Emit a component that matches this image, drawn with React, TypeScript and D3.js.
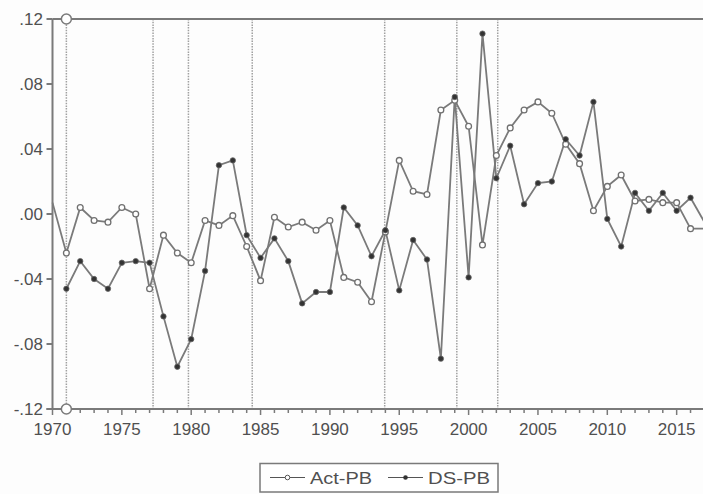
import React from "react";
import * as d3 from "d3";

const years = d3.range(1970, 2018);
const actPB = [
  0.007, -0.024, 0.004, -0.004, -0.005, 0.004, 0.0, -0.046, -0.013, -0.024,
  -0.03, -0.004, -0.007, -0.001, -0.02, -0.041, -0.002, -0.008, -0.005, -0.01,
  -0.004, -0.039, -0.042, -0.054, -0.011, 0.033, 0.014, 0.012, 0.064, 0.07,
  0.054, -0.019, 0.036, 0.053, 0.064, 0.069, 0.062, 0.043, 0.031, 0.002,
  0.017, 0.024, 0.008, 0.009, 0.007, 0.007, -0.009, -0.009,
];
const dsPB: (number | null)[] = [
  null, -0.046, -0.029, -0.04, -0.046, -0.03, -0.029, -0.03, -0.063, -0.094,
  -0.077, -0.035, 0.03, 0.033, -0.013, -0.027, -0.015, -0.029, -0.055, -0.048,
  -0.048, 0.004, -0.007, -0.026, -0.01, -0.047, -0.016, -0.028, -0.089, 0.072,
  -0.039, 0.111, 0.022, 0.042, 0.006, 0.019, 0.02, 0.046, 0.036, 0.069,
  -0.003, -0.02, 0.013, 0.002, 0.013, 0.002, 0.01, -0.005,
];
const breaks = [1971, 1977.25, 1979.8, 1984.4, 1993.95, 1999.15, 2002.1];
const yTicks = [0.12, 0.08, 0.04, 0.0, -0.04, -0.08, -0.12];
const xTicks = d3.range(1970, 2016, 5);
const seriesNames = ["Act-PB", "DS-PB"];

const W = 703;
const H = 494;
const FONT = "'Liberation Sans', Arial, sans-serif";
const GRAY = "#7a7a7a";
const TXT = "#505050";

export default function App() {
  const x = d3.scaleLinear().domain([1970, 2017]).range([52.5, 704.4]);
  const y = d3.scaleLinear().domain([-0.12, 0.12]).range([409, 19]);
  const line = d3
    .line<[number, number | null]>()
    .defined((d) => d[1] !== null)
    .x((d) => x(d[0]))
    .y((d) => y(d[1] as number));
  const actData = years.map((yr, i) => [yr, actPB[i]] as [number, number | null]);
  const dsData = years.map((yr, i) => [yr, dsPB[i]] as [number, number | null]);
  const minor = d3.range(1970, 2018);

  return (
    <svg
      width={W}
      height={H}
      style={{ position: "absolute", left: 0, top: 0, background: "#fff" }}
      fontFamily={FONT}
    >
      <rect x={0} y={0} width={W} height={H} fill="#fdfdfd" />
      {breaks.map((b, i) => (
        <line
          key={i}
          x1={x(b)}
          x2={x(b)}
          y1={y(0.12)}
          y2={y(-0.12)}
          stroke="#a0a0a0"
          strokeWidth={1.5}
          strokeDasharray="1.5,1.2"
        />
      ))}
      <line x1={x(1970)} x2={W} y1={y(0.12)} y2={y(0.12)} stroke={GRAY} strokeWidth={2} />
      <line x1={x(1970)} x2={x(1970)} y1={y(0.12)} y2={y(-0.12)} stroke={GRAY} strokeWidth={2} />
      <line x1={x(1970) - 6} x2={W} y1={y(-0.12)} y2={y(-0.12)} stroke={GRAY} strokeWidth={2} />
      {yTicks.map((t) => (
        <g key={t}>
          <line x1={x(1970) - 6} x2={x(1970)} y1={y(t)} y2={y(t)} stroke={GRAY} strokeWidth={2} />
          <text x={43} y={y(t)} dy="0.36em" textAnchor="end" fontSize={17} fill={TXT}>
            {t === 0 ? ".00" : (t < 0 ? "-" : "") + d3.format(".2f")(Math.abs(t)).replace(/^0/, "")}
          </text>
        </g>
      ))}
      {minor.map((m) => (
        <line
          key={m}
          x1={x(m)}
          x2={x(m)}
          y1={y(-0.12)}
          y2={y(-0.12) + (m % 5 === 0 ? 6 : 4)}
          stroke={GRAY}
          strokeWidth={1.5}
        />
      ))}
      {xTicks.map((t) => (
        <text key={t} x={x(t)} y={435} textAnchor="middle" fontSize={17} fill={TXT}>
          {t}
        </text>
      ))}
      <circle cx={x(1971)} cy={y(0.12)} r={5} fill="#fff" stroke={GRAY} strokeWidth={1.5} />
      <circle cx={x(1971)} cy={y(-0.12)} r={5} fill="#fff" stroke={GRAY} strokeWidth={1.5} />
      <path d={line(actData) || ""} fill="none" stroke={GRAY} strokeWidth={1.8} />
      <path d={line(dsData) || ""} fill="none" stroke={GRAY} strokeWidth={1.8} />
      {actData
        .filter((d, i) => i > 0 && i < actData.length - 1)
        .map((d) => (
          <circle
            key={"a" + d[0]}
            cx={x(d[0])}
            cy={y(d[1] as number)}
            r={2.9}
            fill="#fff"
            stroke="#707070"
            strokeWidth={1.3}
          />
        ))}
      {dsData
        .filter((d, i) => d[1] !== null && i < dsData.length - 1)
        .map((d) => (
          <circle
            key={"d" + d[0]}
            cx={x(d[0])}
            cy={y(d[1] as number)}
            r={2.7}
            fill="#333"
            stroke="#666"
            strokeWidth={0.8}
          />
        ))}
      <rect x={260} y={463.5} width={238} height={28.5} fill="#fff" stroke={GRAY} strokeWidth={1.5} />
      <line x1={270} x2={305} y1={477.5} y2={477.5} stroke="#555" strokeWidth={1.2} />
      <circle cx={287.5} cy={477.5} r={2.3} fill="#fff" stroke="#555" strokeWidth={1} />
      <text x={310} y={483.5} fontSize={17} fill={TXT} textLength={62} lengthAdjust="spacingAndGlyphs">
        {seriesNames[0]}
      </text>
      <line x1={388} x2={423} y1={477.5} y2={477.5} stroke="#555" strokeWidth={1.2} />
      <circle cx={405.5} cy={477.5} r={2.3} fill="#333" />
      <text x={428} y={483.5} fontSize={17} fill={TXT} textLength={62} lengthAdjust="spacingAndGlyphs">
        {seriesNames[1]}
      </text>
    </svg>
  );
}
